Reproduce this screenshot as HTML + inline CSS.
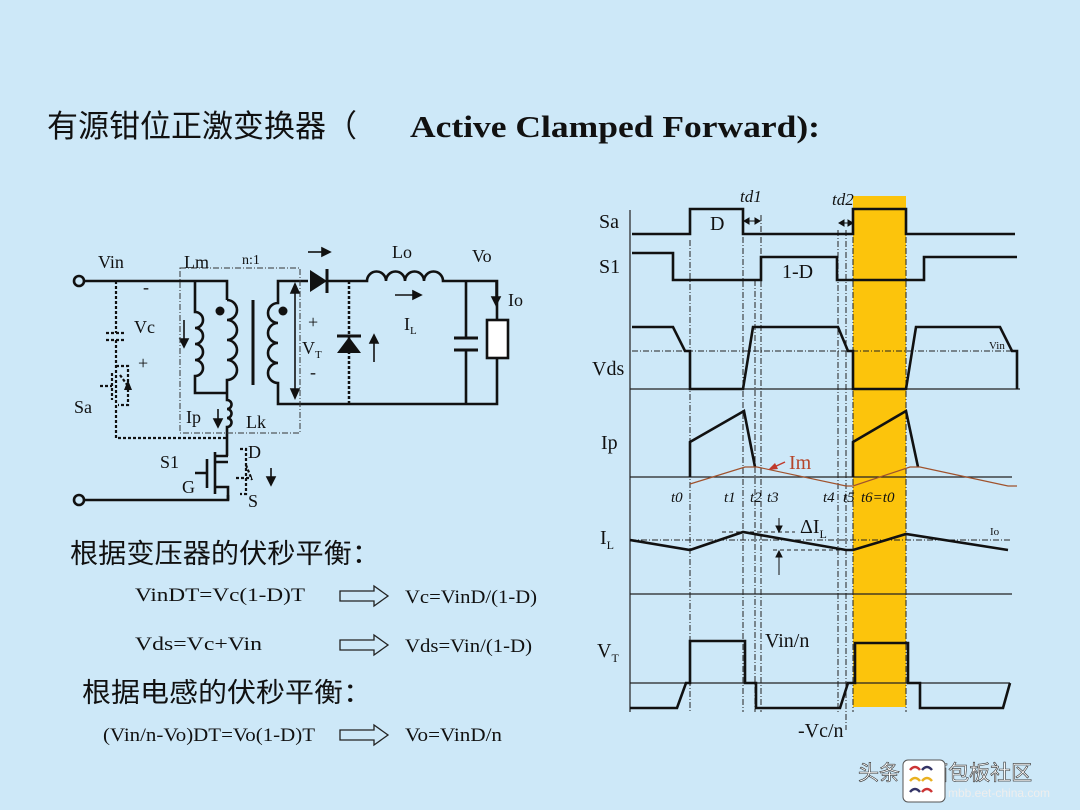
<!DOCTYPE html>
<html><head><meta charset="utf-8"><style>
html,body{margin:0;padding:0;background:#cde8f8;}
svg{display:block;}
.t{font-family:"Liberation Serif","Noto Serif CJK SC",serif;fill:#111;}
.c{font-family:"Liberation Sans","Noto Sans CJK SC",sans-serif;fill:#111;}
</style></head><body>
<svg width="1080" height="810" viewBox="0 0 1080 810" xmlns="http://www.w3.org/2000/svg">
<rect width="1080" height="810" fill="#cde8f8"/>
<text x="47" y="137" class="c" font-size="31">有源钳位正激变换器（</text>
<text x="410" y="137" class="t" font-size="31" font-weight="bold" textLength="410" lengthAdjust="spacingAndGlyphs">Active Clamped Forward):</text>

<!-- ===== circuit ===== -->
<g stroke="#111" stroke-width="2.6" fill="none">
<circle cx="79" cy="281" r="5" fill="#cde8f8"/>
<circle cx="79" cy="500" r="5" fill="#cde8f8"/>
<path d="M84 281H227V300"/>
<path d="M195 281V312a8 8 0 0 1 0 16a8 8 0 0 1 0 16a8 8 0 0 1 0 16a8 8 0 0 1 0 16V393H228"/>
<path d="M227 300a10 10 0 0 1 0 20a10 10 0 0 1 0 20a10 10 0 0 1 0 20a10 10 0 0 1 0 20V400a4.5 4.5 0 0 1 0 9a4.5 4.5 0 0 1 0 9a4.5 4.5 0 0 1 0 9V456"/>
<path d="M253 300V385" stroke-width="3"/>
<path d="M308 281H278V303a10 10 0 0 0 0 20a10 10 0 0 0 0 20a10 10 0 0 0 0 20a10 10 0 0 0 0 20V404H497V281H443a9.5 9.5 0 0 0 -19 0a9.5 9.5 0 0 0 -19 0a9.5 9.5 0 0 0 -19 0a9.5 9.5 0 0 0 -19 0H327"/>
<path d="M466 281V338M466 350V404"/>
<path d="M454 338H478M454 350H478" stroke-width="3"/>
<rect x="487" y="320" width="21" height="38" fill="#fff"/>
<path d="M84 500H228V495"/>
<path d="M228 456H215M215 452V494M207 459V488M195 473H207M215 462H228M215 487H228V500" />
</g>
<path d="M310 270L327 281L310 292Z" fill="#111"/>
<path d="M327 269V293" stroke="#111" stroke-width="3"/>
<path d="M349 281V404" stroke="#111" stroke-width="2.5" stroke-dasharray="3,2"/>
<path d="M337 353H361L349 337Z" fill="#111"/>
<path d="M337 336H361" stroke="#111" stroke-width="3"/>
<circle cx="220" cy="311" r="4.5" fill="#111"/>
<circle cx="283" cy="311" r="4.5" fill="#111"/>
<g stroke="#111" stroke-width="1.6" fill="#111">
<path d="M295 288V394" fill="none"/>
<path d="M291 293L295 284L299 293Z"/><path d="M291 389L295 398L299 389Z"/>
<path d="M308 252H324" fill="none"/><path d="M322 248L330 252L322 256Z"/>
<path d="M395 295H414" fill="none"/><path d="M413 291L421 295L413 299Z"/>
<path d="M374 362V341" fill="none"/><path d="M370 343L374 335L378 343Z"/>
<path d="M496 282V297" fill="none"/><path d="M492 297L496 305L500 297Z"/>
<path d="M184 320V340" fill="none"/><path d="M180 339L184 347L188 339Z"/>
<path d="M218 409V420" fill="none"/><path d="M214 419L218 427L222 419Z"/>
<path d="M271 468V478" fill="none"/><path d="M267 477L271 485L275 477Z"/>
</g>
<g stroke="#111" stroke-width="2.2" fill="none" stroke-dasharray="3,2">
<path d="M116 281V333M116 340V438H228"/>
<path d="M106 333H126M106 340H126"/>
<path d="M116 366H128V405H118M100 386H112M112 373V400M120 375L128 386"/>
<path d="M240 449H246V494H240M246 465L252 480M236 478H252"/>
</g>
<path d="M128 380L124 390H132Z" fill="#111"/>
<rect x="180" y="268" width="120" height="165" fill="none" stroke="#333" stroke-width="1" stroke-dasharray="6,2,1,2"/>
<g class="t" font-size="18">
<text x="98" y="268">Vin</text><text x="184" y="268">Lm</text>
<text x="242" y="264" font-size="14">n:1</text>
<text x="392" y="258">Lo</text><text x="472" y="262">Vo</text>
<text x="508" y="306">Io</text>
<text x="404" y="330">I<tspan font-size="11" dy="4">L</tspan></text>
<text x="308" y="328">+</text><text x="302" y="354">V<tspan font-size="11" dy="4">T</tspan></text><text x="310" y="378">-</text>
<text x="143" y="293">-</text><text x="134" y="333">Vc</text><text x="138" y="369">+</text>
<text x="74" y="413">Sa</text><text x="186" y="423">Ip</text><text x="246" y="428">Lk</text>
<text x="160" y="468">S1</text><text x="182" y="493">G</text><text x="248" y="458">D</text><text x="248" y="507">S</text>
</g>

<!-- ===== text formulas ===== -->
<text x="70" y="563" class="c" font-size="27" textLength="310" lengthAdjust="spacingAndGlyphs">根据变压器的伏秒平衡：</text>
<text x="82" y="702" class="c" font-size="27" textLength="290" lengthAdjust="spacingAndGlyphs">根据电感的伏秒平衡：</text>
<g class="t" font-size="19">
<text x="135" y="601" textLength="170" lengthAdjust="spacingAndGlyphs">VinDT=Vc(1-D)T</text><text x="405" y="603" textLength="132" lengthAdjust="spacingAndGlyphs">Vc=VinD/(1-D)</text>
<text x="135" y="650" textLength="127" lengthAdjust="spacingAndGlyphs">Vds=Vc+Vin</text><text x="405" y="652" textLength="127" lengthAdjust="spacingAndGlyphs">Vds=Vin/(1-D)</text>
<text x="103" y="741" textLength="212" lengthAdjust="spacingAndGlyphs">(Vin/n-Vo)DT=Vo(1-D)T</text><text x="405" y="741" textLength="97" lengthAdjust="spacingAndGlyphs">Vo=VinD/n</text>
</g>
<g fill="none" stroke="#222" stroke-width="1.3">
<path d="M340 591H374V586L388 596L374 606V601H340Z"/>
<path d="M340 640H374V635L388 645L374 655V650H340Z"/>
<path d="M340 730H374V725L388 735L374 745V740H340Z"/>
</g>

<!-- ===== waveforms ===== -->
<rect x="853" y="196" width="53" height="511" fill="#fcc40c"/>
<g stroke="#222" stroke-width="1" stroke-dasharray="6,2,1,2" fill="none">
<path d="M690 240V712M743 215V712M755 280V712M761 215V712M838 230V712M846 230V730M853 215V712M906 215V712"/>
<path d="M632 351H1017M630 540H1012"/>
</g>
<g stroke="#222" stroke-width="1" stroke-dasharray="4,3" fill="none">
<path d="M722 532H795M773 550H846"/>
</g>
<g stroke="#222" stroke-width="1.2" fill="none">
<path d="M630 210V712"/>
<path d="M630 389H1020M630 477H1012M630 594H1012M630 683H1010"/>
</g>
<g stroke="#111" stroke-width="2.6" fill="none" stroke-linejoin="miter">
<path d="M632 234H690V209H743V234H853V209H906V234H1015"/>
<path d="M632 253H673V280H761V257H837V280H924V257H1017"/>
<path d="M632 327H673L685 351H690V389H743L753 327H838L848 351H853V389H906L916 327H1000L1012 351H1017V389"/>
<path d="M690 477V442L744 411L755 467"/>
<path d="M853 477V442L906 411L918 467"/>
<path d="M630 540L690 550L743 532L846 550H853L906 534L1008 550"/>
<path d="M630 708H677L686 683H690V641H745V683H756V708H840L848 683H855V643H908V683H920V708H1003L1010 683"/>
</g>
<path d="M690 484L745 467H757L846 486H853L910 467H920L1008 486H1017" stroke="#a0522d" stroke-width="1.2" fill="none"/>
<g stroke="#111" stroke-width="1" fill="#111">
<path d="M745 221H759M840 223H851" fill="none"/>
<path d="M749 218L744 221L749 224Z"/><path d="M755 218L760 221L755 224Z"/>
<path d="M844 220L839 223L844 226Z"/><path d="M848 220L853 223L848 226Z"/>
<path d="M779 518V528M779 575V556" fill="none"/>
<path d="M776 526L779 532L782 526Z"/><path d="M776 557L779 551L782 557Z"/>
</g>
<path d="M785 462L772 468" stroke="#c0392b" stroke-width="1.5"/>
<path d="M768 470L775 463L778 469Z" fill="#c0392b"/>
<g class="t" font-size="20">
<text x="599" y="228">Sa</text><text x="599" y="273">S1</text>
<text x="710" y="230">D</text><text x="782" y="278">1-D</text>
<text x="740" y="202" font-style="italic" font-size="17">td1</text>
<text x="832" y="205" font-style="italic" font-size="17">td2</text>
<text x="592" y="375">Vds</text><text x="601" y="449">Ip</text>
<text x="789" y="469" style="fill:#b5452a">Im</text>
<text x="600" y="544">I<tspan font-size="12" dy="5">L</tspan></text>
<text x="800" y="533">ΔI<tspan font-size="12" dy="5">L</tspan></text>
<text x="597" y="657">V<tspan font-size="12" dy="5">T</tspan></text>
<text x="765" y="647">Vin/n</text><text x="798" y="737">-Vc/n</text>
</g>
<g class="t" font-size="15" font-style="italic">
<text x="671" y="502">t0</text><text x="724" y="502">t1</text><text x="750" y="502">t2</text><text x="767" y="502">t3</text>
<text x="823" y="502">t4</text><text x="843" y="502">t5</text><text x="861" y="502">t6=t0</text>
</g>
<text x="989" y="349" class="t" font-size="11">Vin</text>
<text x="990" y="535" class="t" font-size="11">Io</text>

<!-- watermark -->
<text x="858" y="780" class="c" font-size="21" style="fill:#fff;stroke:#333;stroke-width:0.6">头条 @面包板社区</text>
<rect x="903" y="760" width="42" height="42" rx="5" fill="#fff" stroke="#555"/>
<g fill="none" stroke-width="2.5">
<path d="M910 770q5 -6 10 0" stroke="#c33"/><path d="M922 770q5 -6 10 0" stroke="#336"/>
<path d="M910 781q5 -6 10 0" stroke="#e9b020"/><path d="M922 781q5 -6 10 0" stroke="#e9b020"/>
<path d="M910 792q5 -6 10 0" stroke="#336"/><path d="M922 792q5 -6 10 0" stroke="#c33"/>
</g>
<text x="948" y="797" class="c" font-size="12" style="fill:#eee">mbb.eet-china.com</text>
</svg>
</body></html>
